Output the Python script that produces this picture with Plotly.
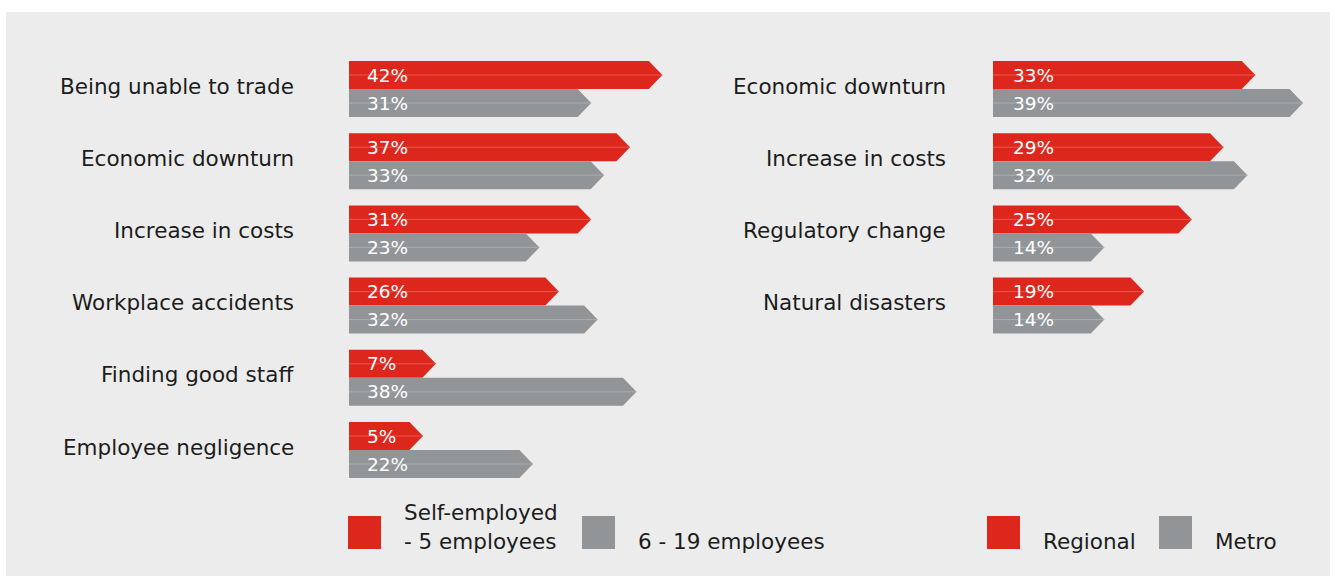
import plotly.graph_objects as go

# ---- data ---------------------------------------------------------------
left_categories = ["Being unable to trade", "Economic downturn", "Increase in costs",
                   "Workplace accidents", "Finding good staff", "Employee negligence"]
self_employed = [42, 37, 31, 26, 7, 5]          # Self-employed - 5 employees
employees_6_19 = [31, 33, 23, 32, 38, 22]       # 6 - 19 employees

right_categories = ["Economic downturn", "Increase in costs",
                    "Regulatory change", "Natural disasters"]
regional = [33, 29, 25, 19]
metro = [39, 32, 14, 14]

# ---- style --------------------------------------------------------------
W, H = 1335, 576
RED, RED_LINE = "#dd271d", "#e9574f"
GREY, GREY_LINE = "#929598", "#aaadb0"
BG = "#ececec"
TEXT = "#1c1c1c"
FONT = "'DejaVu Sans', sans-serif"
LABEL_SIZE = 21.5
PCT_SIZE = 18.5

ROW_PX = 72.2          # distance between category rows
FIRST_ROW_PX = 89      # centre of first row from top
BAR_PX = 28            # height of each arrow bar
TIP_PX = 13.5          # length of the arrow point

# y axis in "row" units, reversed so row 0 sits on top
y_top = -FIRST_ROW_PX / ROW_PX
y_bot = (H - FIRST_ROW_PX) / ROW_PX
half = BAR_PX / ROW_PX

# panel geometry: (start pixel, end pixel, pixels per %, stub before zero in px)
panels = {
    "x": dict(start=349, end=720, ppu=6.47, stub=41.6, pad=16),
    "x2": dict(start=993, end=1330, ppu=7.95, stub=0.0, pad=18),
}
for p in panels.values():
    p["x0"] = -p["stub"] / p["ppu"]
    p["range"] = [p["x0"], p["x0"] + (p["end"] - p["start"]) / p["ppu"]]
    p["tip"] = TIP_PX / p["ppu"]

fig = go.Figure()
annotations = []


def arrow(xref, value, y0, y1, fill, line_col, label):
    p = panels[xref]
    x0 = p["x0"]
    xb = value - p["tip"]
    ym = (y0 + y1) / 2
    fig.add_trace(go.Scatter(
        x=[x0, xb, value, xb, x0, x0], y=[y0, y0, ym, y1, y1, y0],
        mode="lines", fill="toself", fillcolor=fill, line=dict(width=0),
        xaxis=xref, yaxis="y", hoverinfo="skip", showlegend=False))
    fig.add_trace(go.Scatter(
        x=[x0, value], y=[ym, ym], mode="lines",
        line=dict(color=line_col, width=1),
        xaxis=xref, yaxis="y", hoverinfo="skip", showlegend=False))
    annotations.append(dict(
        x=x0, y=ym, xref=xref, yref="y", xanchor="left", yanchor="middle",
        xshift=p["pad"], showarrow=False, text=label,
        font=dict(color="white", size=PCT_SIZE, family=FONT)))


def panel(xref, cats, first, second, label_x):
    for i, cat in enumerate(cats):
        arrow(xref, first[i], i - half, i, RED, RED_LINE, f"{first[i]}%")
        arrow(xref, second[i], i, i + half, GREY, GREY_LINE, f"{second[i]}%")
        annotations.append(dict(
            x=label_x / W, y=i - 0.04, xref="paper", yref="y",
            xanchor="right", yanchor="middle", showarrow=False, text=cat,
            font=dict(color=TEXT, size=LABEL_SIZE, family=FONT)))


panel("x", left_categories, self_employed, employees_6_19, 296)
panel("x2", right_categories, regional, metro, 948)

# ---- legend keys --------------------------------------------------------
shapes = [dict(type="rect", xref="paper", yref="paper", layer="below",
               x0=6 / W, x1=1330 / W, y0=0, y1=1 - 12 / H,
               fillcolor=BG, line=dict(width=0))]
legend_keys = [
    (348, RED, [("Self-employed", 402, 512), ("- 5 employees", 402, 541)]),
    (582, GREY, [("6 - 19 employees", 636, 541)]),
    (987, RED, [("Regional", 1041, 541)]),
    (1159, GREY, [("Metro", 1213, 541)]),
]
for kx, col, texts in legend_keys:
    shapes.append(dict(type="rect", xref="paper", yref="paper",
                       x0=kx / W, x1=(kx + 33) / W,
                       y0=1 - 549 / H, y1=1 - 516 / H,
                       fillcolor=col, line=dict(width=0)))
    for t, tx, ty in texts:
        annotations.append(dict(
            x=tx / W, y=1 - ty / H, xref="paper", yref="paper",
            xanchor="left", yanchor="middle", showarrow=False, text=t,
            font=dict(color=TEXT, size=LABEL_SIZE, family=FONT)))

axis_common = dict(visible=False, showgrid=False, zeroline=False, fixedrange=True)
fig.update_layout(
    width=W, height=H, margin=dict(l=0, r=0, t=0, b=0),
    paper_bgcolor="white", plot_bgcolor="rgba(0,0,0,0)",
    xaxis=dict(domain=[panels["x"]["start"] / W, panels["x"]["end"] / W],
               range=panels["x"]["range"], anchor="y", **axis_common),
    xaxis2=dict(domain=[panels["x2"]["start"] / W, panels["x2"]["end"] / W],
                range=panels["x2"]["range"], anchor="y", **axis_common),
    yaxis=dict(domain=[0, 1], range=[y_bot, y_top], **axis_common),
    shapes=shapes, annotations=annotations, showlegend=False,
)

fig.write_html("out.html")
